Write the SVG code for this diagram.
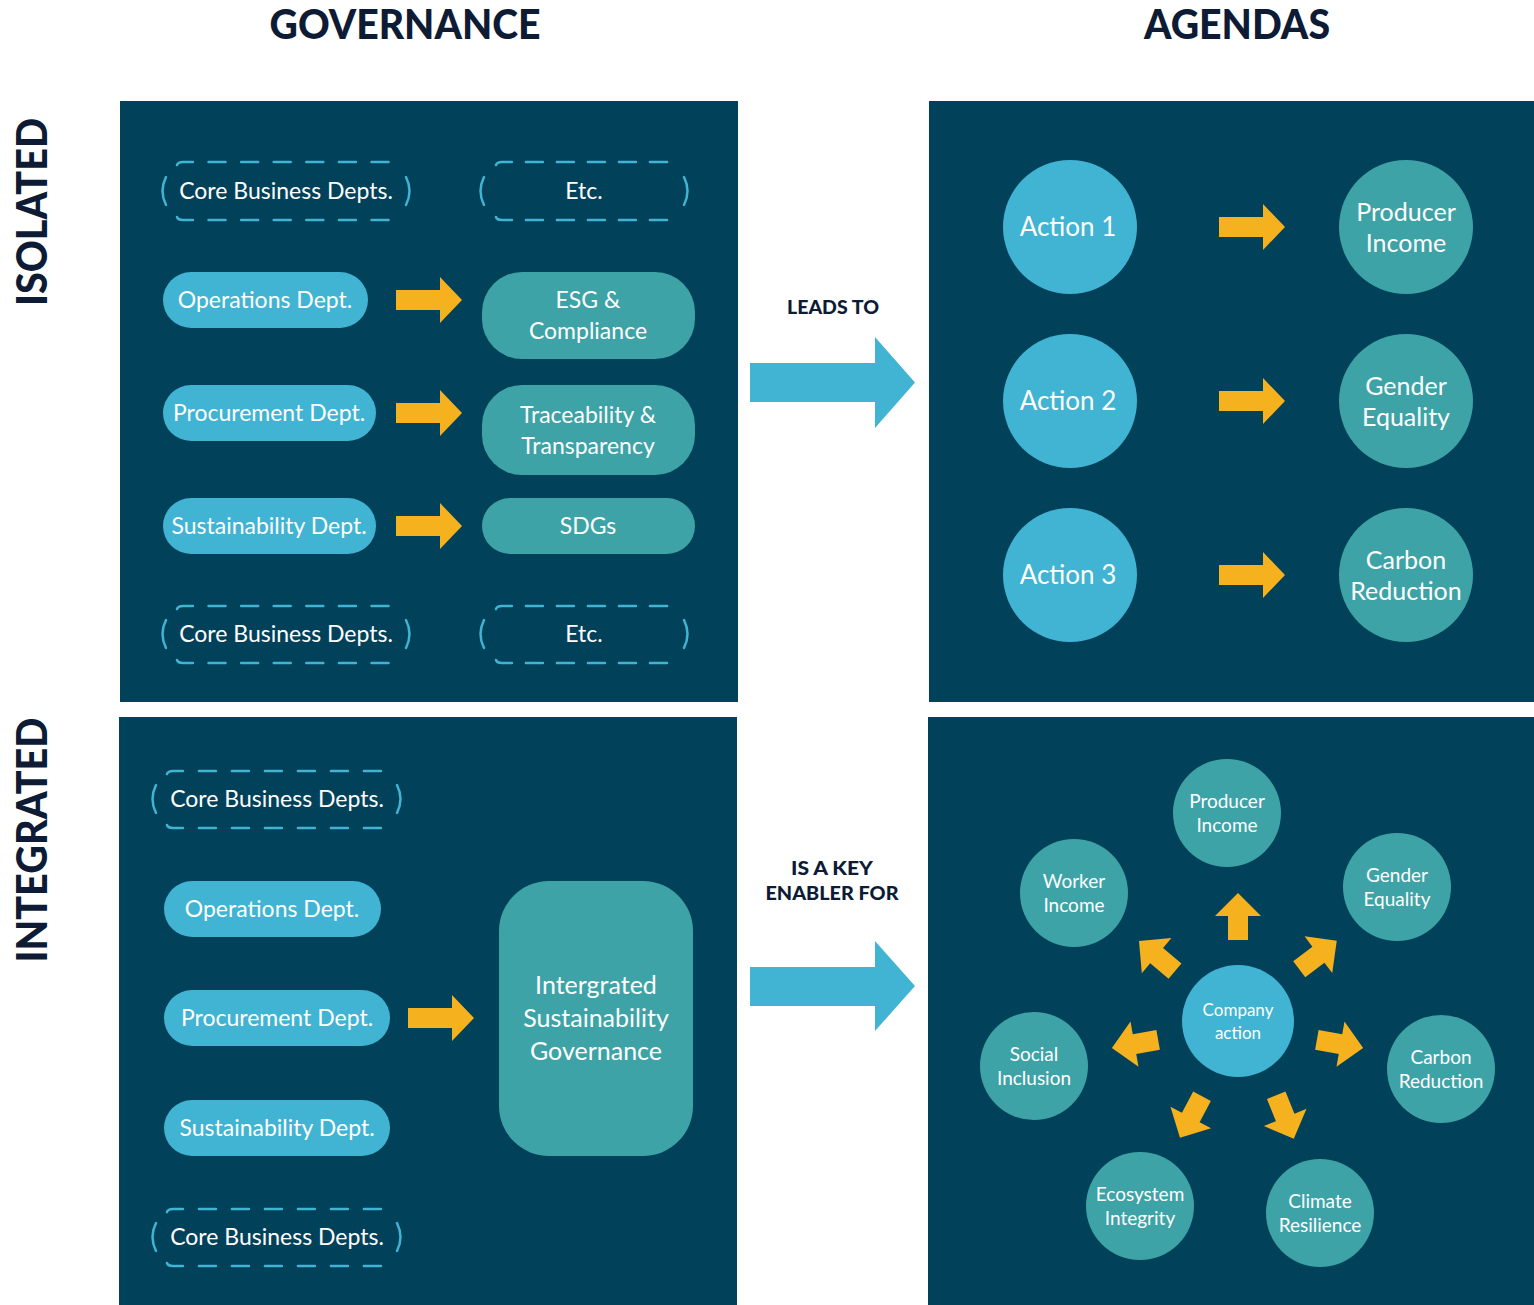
<svg xmlns="http://www.w3.org/2000/svg" width="1534" height="1305" viewBox="0 0 1534 1305">
<style>
.panel{fill:#02415A}
.lb{fill:#41B3D3}
.tl{fill:#3DA3A6}
.or{fill:#F5B11E}
.dash{fill:none;stroke:#41B3D3;stroke-width:2.5;stroke-linecap:round}
.t{font-family:Lato,"Open Sans","DejaVu Sans",sans-serif;fill:#ffffff;text-anchor:middle}
.h{font-family:Lato,"Liberation Sans",sans-serif;font-weight:900;fill:#0D1B35;text-anchor:middle}
.s22{font-size:23px}.s25{font-size:25px}.s19{font-size:19px}.s17{font-size:17px}
</style>
<defs>
<path id="oa" d="M-33,-10 H11 V-23 L33,0 L11,23 V10 H-33 Z"/>
<path id="ra" d="M-23.5,-10 H0.5 V-23 L23.5,0 L0.5,23 V10 H-23.5 Z"/>
</defs>
<rect width="1534" height="1305" fill="#ffffff"/>
<text class="h" x="405" y="39" font-size="41" textLength="271" lengthAdjust="spacingAndGlyphs">GOVERNANCE</text>
<text class="h" x="1237" y="39" font-size="41" textLength="186" lengthAdjust="spacingAndGlyphs">AGENDAS</text>
<text class="h" font-size="42" transform="translate(47,212) rotate(-90)" textLength="188" lengthAdjust="spacingAndGlyphs">ISOLATED</text>
<text class="h" font-size="42" transform="translate(47,840) rotate(-90)" textLength="245" lengthAdjust="spacingAndGlyphs">INTEGRATED</text>
<rect class="panel" x="120" y="101" width="618" height="601"/>
<rect class="panel" x="929" y="101" width="605" height="601"/>
<rect class="panel" x="119" y="717" width="618" height="588"/>
<rect class="panel" x="928" y="717" width="606" height="588"/>
<g id="connectors">
<g class="or">
<use href="#oa" transform="translate(429,300)"/>
<use href="#oa" transform="translate(429,413)"/>
<use href="#oa" transform="translate(429,526)"/>
<use href="#oa" transform="translate(1252,227)"/>
<use href="#oa" transform="translate(1252,401)"/>
<use href="#oa" transform="translate(1252,575)"/>
<use href="#oa" transform="translate(441,1018)"/>
<use href="#ra" transform="translate(1238,916.5) rotate(-90)"/>
<use href="#ra" transform="translate(1157,956) rotate(-140)"/>
<use href="#ra" transform="translate(1318,955) rotate(-37)"/>
<use href="#ra" transform="translate(1135,1044) rotate(170)"/>
<use href="#ra" transform="translate(1340,1044) rotate(10)"/>
<use href="#ra" transform="translate(1191,1117) rotate(118)"/>
<use href="#ra" transform="translate(1285,1117) rotate(68)"/>
</g>
<path class="lb" d="M750,363 H875 V337 L915,382.5 L875,428 V402 H750 Z"/>
<path class="lb" d="M750,967 H875 V941 L915,986 L875,1031 V1006 H750 Z"/>
</g>
<text class="h" x="833" y="314" font-size="19" textLength="92" lengthAdjust="spacingAndGlyphs">LEADS TO</text>
<text class="h" x="832" y="875" font-size="19" textLength="82" lengthAdjust="spacingAndGlyphs">IS A KEY</text>
<text class="h" x="832" y="900" font-size="19" textLength="133" lengthAdjust="spacingAndGlyphs">ENABLER FOR</text>

<g id="cbd1">
<path class="dash" d="M177,165 Q178,162 183,162 H389 Q394,162 395,165 M177,217 Q178,220 183,220 H389 Q394,220 395,217" stroke-dasharray="17 15.6"/>
<path class="dash" d="M166,177 Q159,191 166,205 M406,177 Q413,191 406,205"/>
<text class="t s22" x="286" y="199">Core Business Depts.</text>
</g>
<g id="etc1">
<path class="dash" d="M496,165 Q497,162 502,162 H666 Q671,162 672,165 M496,217 Q497,220 502,220 H666 Q671,220 672,217" stroke-dasharray="17 14"/>
<path class="dash" d="M484,177 Q477,191 484,205 M684,177 Q691,191 684,205"/>
<text class="t s22" x="584" y="199">Etc.</text>
</g>
<g id="ops1"><rect class="lb" x="163" y="272" width="205" height="56" rx="28"/><text class="t s22" x="265" y="308">Operations Dept.</text></g>
<g id="esg"><rect class="tl" x="482" y="272" width="213" height="87" rx="40"/><text class="t s22" x="588" y="308">ESG &amp;</text><text class="t s22" x="588" y="339">Compliance</text></g>
<g id="proc1"><rect class="lb" x="163" y="385" width="213" height="56" rx="28"/><text class="t s22" x="269" y="421">Procurement Dept.</text></g>
<g id="trace"><rect class="tl" x="482" y="385" width="213" height="90" rx="40"/><text class="t s22" x="588" y="423">Traceability &amp;</text><text class="t s22" x="588" y="454">Transparency</text></g>
<g id="sus1"><rect class="lb" x="163" y="498" width="213" height="56" rx="28"/><text class="t s22" x="269" y="534">Sustainability Dept.</text></g>
<g id="sdgs"><rect class="tl" x="482" y="498" width="213" height="56" rx="28"/><text class="t s22" x="588" y="534">SDGs</text></g>
<g id="cbd2">
<path class="dash" d="M177,609 Q178,606 183,606 H389 Q394,606 395,609 M177,660 Q178,663 183,663 H389 Q394,663 395,660" stroke-dasharray="17 15.6"/>
<path class="dash" d="M166,620 Q159,634 166,648 M406,620 Q413,634 406,648"/>
<text class="t s22" x="286" y="642">Core Business Depts.</text>
</g>
<g id="etc2">
<path class="dash" d="M496,609 Q497,606 502,606 H666 Q671,606 672,609 M496,660 Q497,663 502,663 H666 Q671,663 672,660" stroke-dasharray="17 14"/>
<path class="dash" d="M484,620 Q477,634 484,648 M684,620 Q691,634 684,648"/>
<text class="t s22" x="584" y="642">Etc.</text>
</g>

<g id="a1"><circle class="lb" cx="1070" cy="227" r="67"/><text class="t" font-size="26" x="1068" y="236">Action 1</text></g>
<g id="a2"><circle class="lb" cx="1070" cy="401" r="67"/><text class="t" font-size="26" x="1068" y="410">Action 2</text></g>
<g id="a3"><circle class="lb" cx="1070" cy="575" r="67"/><text class="t" font-size="26" x="1068" y="584">Action 3</text></g>
<g id="pi1"><circle class="tl" cx="1406" cy="227" r="67"/><text class="t s25" x="1406" y="221">Producer</text><text class="t s25" x="1406" y="252">Income</text></g>
<g id="ge1"><circle class="tl" cx="1406" cy="401" r="67"/><text class="t s25" x="1406" y="395">Gender</text><text class="t s25" x="1406" y="426">Equality</text></g>
<g id="cr1"><circle class="tl" cx="1406" cy="575" r="67"/><text class="t s25" x="1406" y="569">Carbon</text><text class="t s25" x="1406" y="600">Reduction</text></g>

<g id="cbd3">
<path class="dash" d="M167,774 Q168,771 173,771 H381 Q386,771 387,774 M167,825 Q168,828 173,828 H381 Q386,828 387,825" stroke-dasharray="17 16"/>
<path class="dash" d="M156,785 Q149,799 156,813 M397,785 Q404,799 397,813"/>
<text class="t s22" x="277" y="807">Core Business Depts.</text>
</g>
<g id="ops2"><rect class="lb" x="164" y="881" width="217" height="56" rx="28"/><text class="t s22" x="272" y="917">Operations Dept.</text></g>
<g id="proc2"><rect class="lb" x="164" y="990" width="226" height="56" rx="28"/><text class="t s22" x="277" y="1026">Procurement Dept.</text></g>
<g id="sus2"><rect class="lb" x="164" y="1100" width="226" height="56" rx="28"/><text class="t s22" x="277" y="1136">Sustainability Dept.</text></g>
<g id="cbd4">
<path class="dash" d="M167,1212 Q168,1209 173,1209 H381 Q386,1209 387,1212 M167,1263 Q168,1266 173,1266 H381 Q386,1266 387,1263" stroke-dasharray="17 16"/>
<path class="dash" d="M156,1223 Q149,1237 156,1251 M397,1223 Q404,1237 397,1251"/>
<text class="t s22" x="277" y="1245">Core Business Depts.</text>
</g>
<g id="isg"><rect class="tl" x="499" y="881" width="194" height="275" rx="50"/><text class="t s25" x="596" y="994">Intergrated</text><text class="t s25" x="596" y="1027">Sustainability</text><text class="t s25" x="596" y="1060">Governance</text></g>

<g id="company"><circle class="lb" cx="1238" cy="1021" r="56"/><text class="t s17" x="1238" y="1016">Company</text><text class="t s17" x="1238" y="1039">action</text></g>
<g id="pi2"><circle class="tl" cx="1227" cy="813" r="54"/><text class="t s19" x="1227" y="808">Producer</text><text class="t s19" x="1227" y="832">Income</text></g>
<g id="ge2"><circle class="tl" cx="1397" cy="887" r="54"/><text class="t s19" x="1397" y="882">Gender</text><text class="t s19" x="1397" y="906">Equality</text></g>
<g id="cr2"><circle class="tl" cx="1441" cy="1069" r="54"/><text class="t s19" x="1441" y="1064">Carbon</text><text class="t s19" x="1441" y="1088">Reduction</text></g>
<g id="cl2"><circle class="tl" cx="1320" cy="1213" r="54"/><text class="t s19" x="1320" y="1208">Climate</text><text class="t s19" x="1320" y="1232">Resilience</text></g>
<g id="ei2"><circle class="tl" cx="1140" cy="1206" r="54"/><text class="t s19" x="1140" y="1201">Ecosystem</text><text class="t s19" x="1140" y="1225">Integrity</text></g>
<g id="si2"><circle class="tl" cx="1034" cy="1066" r="54"/><text class="t s19" x="1034" y="1061">Social</text><text class="t s19" x="1034" y="1085">Inclusion</text></g>
<g id="wi2"><circle class="tl" cx="1074" cy="893" r="54"/><text class="t s19" x="1074" y="888">Worker</text><text class="t s19" x="1074" y="912">Income</text></g>
</svg>
